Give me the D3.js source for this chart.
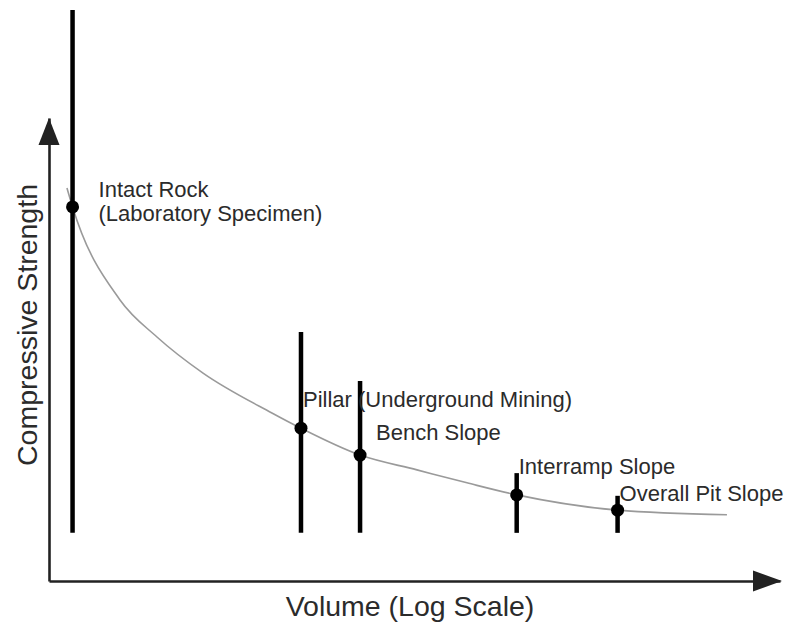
<!DOCTYPE html>
<html>
<head>
<meta charset="utf-8">
<script src="https://cdn.jsdelivr.net/npm/d3@7"></script>
<style>
  body { margin: 0; background: #fff; }
  svg text { font-family: "Liberation Sans", Arial, sans-serif; fill: #2b2b2b; }
</style>
</head>
<body>
<svg id="chart" width="785" height="626"></svg>
<script>
'use strict';

// Data (volume in arbitrary log units, strength in arbitrary linear units)
let siteNames = ['Intact Rock', 'Pillar (Underground Mining)', 'Bench Slope', 'Interramp Slope', 'Overall Pit Slope'];
let siteSubNames = ['(Laboratory Specimen)', '', '', '', ''];
let siteVolumes = [0.0021, 2.8, 18, 2500, 60000];
let siteStrength = [80.8, 33.0, 27.2, 18.6, 15.3];
let rangeLow = [10.4, 10.4, 10.4, 10.4, 10.4];
let rangeHigh = [123.3, 53.8, 43.2, 23.3, 18.4];

let curveVolumes = [0.00176, 0.0021, 0.00936, 0.030, 0.128, 1.12, 2.8, 18, 108, 522, 2500, 60000, 1880000];
let curveStrength = [84.9, 80.8, 60.7, 52.7, 44.9, 36.3, 33.0, 27.2, 24.0, 21.2, 18.6, 15.3, 14.3];

let xTitle = 'Volume (Log Scale)';
let yTitle = 'Compressive Strength';

// Formatting
let format = {
  left: 49,
  right: 780,
  top: 118,
  bottom: 581,
  arrowLen: 29,
  arrowHalf: 10.5,
};
let axisColor = '#222';
let curveColor = '#9a9a9a';
let barColor = '#000';

let svg = d3.select('#chart');

// Scales
let xScale = d3.scaleLog()
  .domain([1e-3, 1e7])
  .range([format.left, format.right]);
let yScale = d3.scaleLinear()
  .domain([0, 100])
  .range([format.bottom, format.top]);

let sites = siteNames.map((name, i) => ({
  name: name,
  sub: siteSubNames[i],
  volume: siteVolumes[i],
  strength: siteStrength[i],
  low: rangeLow[i],
  high: rangeHigh[i],
}));
let curveData = curveVolumes.map((v, i) => ({volume: v, strength: curveStrength[i]}));

// Axes: plain lines with no ticks, arrowheads at the ends
let xAxis = d3.axisBottom(xScale).tickValues([]).tickSizeOuter(0);
let yAxis = d3.axisLeft(yScale).tickValues([]).tickSizeOuter(0);

svg.append('g')
  .attr('class', 'xaxis')
  .attr('transform', `translate(0,${format.bottom})`)
  .call(xAxis);
svg.append('g')
  .attr('class', 'yaxis')
  .attr('transform', `translate(${format.left},0)`)
  .call(yAxis);
svg.selectAll('.xaxis path, .yaxis path')
  .attr('stroke', axisColor)
  .attr('stroke-width', 2.6);

let xEnd = xScale.range()[1] + 2;
let yEnd = yScale.range()[1];
svg.append('path')
  .attr('d', `M${xEnd},${format.bottom} L${xEnd - format.arrowLen},${format.bottom - format.arrowHalf} L${xEnd - format.arrowLen},${format.bottom + format.arrowHalf} Z`)
  .attr('fill', axisColor);
svg.append('path')
  .attr('d', `M${format.left},${yEnd} L${format.left - format.arrowHalf},${yEnd + 27} L${format.left + format.arrowHalf},${yEnd + 27} Z`)
  .attr('fill', axisColor);

// Curve
let line = d3.line()
  .x((d) => xScale(d.volume))
  .y((d) => yScale(d.strength))
  .curve(d3.curveMonotoneX);
svg.append('path')
  .datum(curveData)
  .attr('d', line)
  .attr('fill', 'none')
  .attr('stroke', curveColor)
  .attr('stroke-width', 1.6);

// Range bars
svg.selectAll('.bar')
  .data(sites)
  .enter()
  .append('line')
  .attr('class', 'bar')
  .attr('x1', (d) => xScale(d.volume))
  .attr('x2', (d) => xScale(d.volume))
  .attr('y1', (d) => yScale(d.low))
  .attr('y2', (d) => yScale(d.high))
  .attr('stroke', barColor)
  .attr('stroke-width', 4.5);

// Points
svg.selectAll('.dot')
  .data(sites)
  .enter()
  .append('circle')
  .attr('class', 'dot')
  .attr('cx', (d) => xScale(d.volume))
  .attr('cy', (d) => yScale(d.strength))
  .attr('r', 6.5)
  .attr('fill', barColor);

// Labels (offsets per label)
let labelDx = [26, 2, 16, 2, 2];
let labelDy = [-10, -21, -15, -21, -9];
let labels = svg.selectAll('.label')
  .data(sites)
  .enter()
  .append('text')
  .attr('class', 'label')
  .attr('x', (d, i) => xScale(d.volume) + labelDx[i])
  .attr('y', (d, i) => yScale(d.strength) + labelDy[i])
  .style('font-size', '22px');
labels.append('tspan')
  .text((d) => d.name);
labels.append('tspan')
  .attr('x', (d, i) => xScale(d.volume) + labelDx[i])
  .attr('dy', 24)
  .text((d) => d.sub);

// Axis titles
svg.append('text')
  .attr('x', 410)
  .attr('y', 616)
  .attr('text-anchor', 'middle')
  .style('font-size', '28.5px')
  .text(xTitle);
svg.append('text')
  .attr('transform', 'translate(37,325) rotate(-90)')
  .attr('text-anchor', 'middle')
  .style('font-size', '28.5px')
  .text(yTitle);
</script>
</body>
</html>
